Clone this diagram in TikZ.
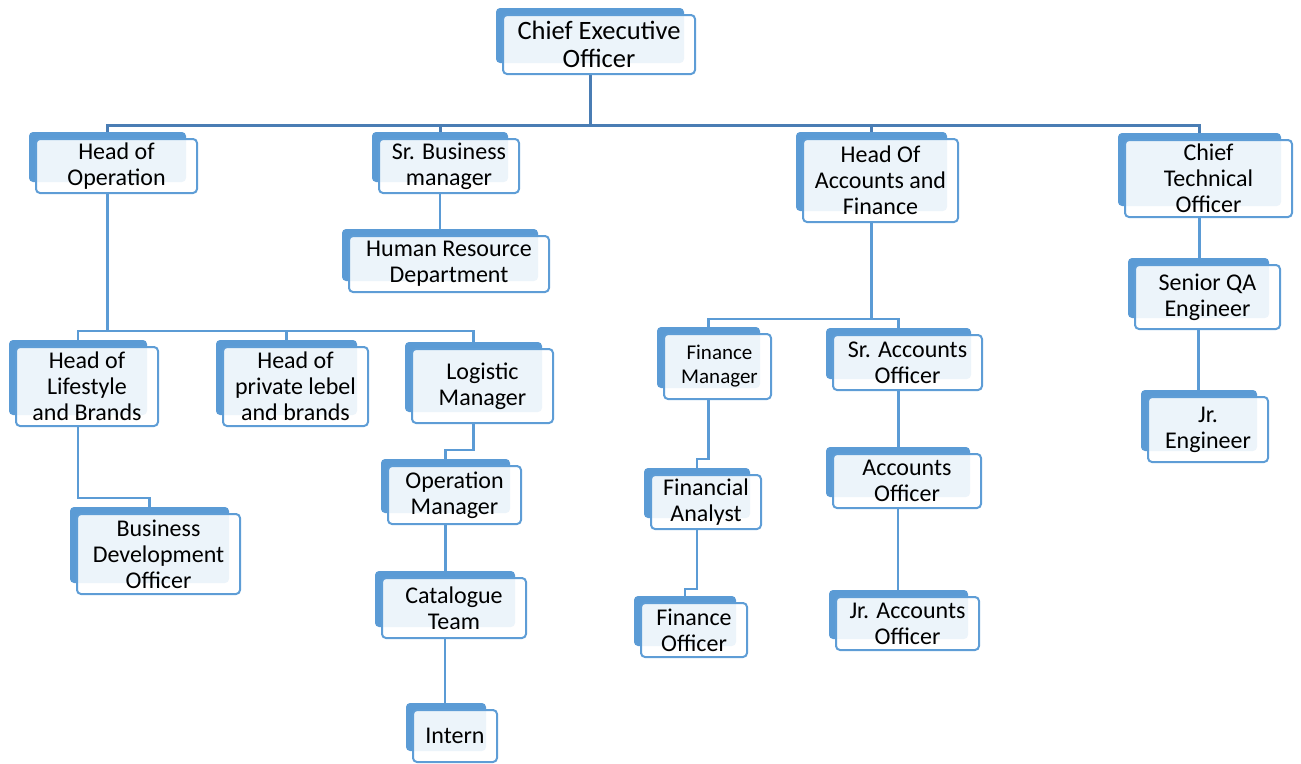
\documentclass[tikz,border=0pt]{standalone}
\usepackage{fontspec}
\setmainfont{Carlito}
\usetikzlibrary{fit,calc}
\pgfdeclarelayer{bg}
\pgfsetlayers{bg,main}
\definecolor{backblue}{HTML}{5B9BD5}
\definecolor{frontline}{HTML}{5E9DD6}
\definecolor{connA}{HTML}{4A7DB4}
\definecolor{connB}{HTML}{5B9BD5}
\tikzset{
  boxtext/.style={align=center, inner sep=0pt, font=\fontsize{24}{26}\selectfont},
  connmain/.style={draw=connA, line width=3pt},
  connsub/.style={draw=connB, line width=2.5pt},
}
\newcommand\orgbox[7]{%
  \fill[backblue, rounded corners=4pt] ({#2-7},{#3-7}) rectangle ({#4-11},{#5-11});
  \draw[frontline, line width=2pt, fill=white, fill opacity=0.89, rounded corners=4pt] (#2,#3) rectangle (#4,#5);
  \node[fit={({#2-7},{#3-7}) ({#4-11},#5)}, inner sep=0pt] (#1) {};
  \node[boxtext, #6] (#1t) at ({(#2+#4)/2},{(#3+#5)/2}) {#7};
}
\begin{document}
\begin{tikzpicture}[x=1pt,y=-1pt]
\useasboundingbox (0,0) rectangle (1301,763);
% boxes
\orgbox{ceo}{503}{15}{695}{74}{font=\fontsize{26.5}{28.5}\selectfont}{Chief Executive\\Officer}
\orgbox{hop}{36}{139}{197}{193}{}{Head of\\Operation}
\orgbox{sbm}{379}{139}{519}{193}{}{Sr. Business\\manager}
\orgbox{hac}{803}{139}{958}{222}{}{Head Of\\Accounts and\\Finance}
\orgbox{cto}{1125}{140}{1292}{217}{}{Chief\\Technical\\Officer}
\orgbox{hr}{349}{236}{549}{292}{}{Human Resource\\Department}
\orgbox{hls}{16}{347}{158}{426}{}{Head of\\Lifestyle\\and Brands}
\orgbox{hpl}{223}{347}{368}{426}{}{Head of\\private lebel\\and brands}
\orgbox{log}{412}{349}{553}{423}{}{Logistic\\Manager}
\orgbox{bdo}{77}{514}{240}{594}{}{Business\\Development\\Officer}
\orgbox{opm}{388}{466}{521}{524}{}{Operation\\Manager}
\orgbox{cat}{382}{578}{526}{638}{}{Catalogue\\Team}
\orgbox{int}{413}{710}{497}{762}{}{Intern}
\orgbox{fm}{664}{334}{771}{399}{font=\fontsize{21}{24}\selectfont, xshift=2pt}{Finance\\Manager}
\orgbox{sao}{833}{335}{982}{390}{}{Sr. Accounts\\Officer}
\orgbox{fa}{651}{475}{761}{529}{}{Financial\\Analyst}
\orgbox{fo}{641}{603}{747}{657}{}{Finance\\Officer}
\orgbox{ao}{833}{454}{981}{508}{}{Accounts\\Officer}
\orgbox{jra}{836}{597}{979}{650}{}{Jr. Accounts\\Officer}
\orgbox{sqa}{1135}{265}{1280}{329}{}{Senior QA\\Engineer}
\orgbox{jre}{1148}{397}{1268}{462}{}{Jr.\\Engineer}
% connectors
\begin{pgfonlayer}{bg}
\draw[connmain] (ceo.south) -- ++(0,51) coordinate (bus0);
\draw[connmain] (hop.north) |- (bus0);
\draw[connmain] (sbm.north) |- (bus0);
\draw[connmain] (hac.north) |- (bus0);
\draw[connmain] (cto.north) |- (bus0);
\draw[connsub] (sbm.south) -- (sbm.south |- hr.north);
\draw[connsub] (hop.south) -- ++(0,138) coordinate (bus1);
\draw[connsub] (hls.north) |- (bus1);
\draw[connsub] (hpl.north) |- (bus1);
\draw[connsub] (log.north) |- (bus1);
\draw[connsub] (hls.south) -- ++(0,72) -| (bdo.north);
\draw[connsub] (log.south) -- ++(0,27) -| (opm.north);
\draw[connsub] (opm.south) -- (opm.south |- cat.north);
\draw[connsub] (cat.south) -- (cat.south |- int.north);
\draw[connsub] (hac.south) -- ++(0,97) coordinate (bus2);
\draw[connsub] (fm.north) |- (bus2);
\draw[connsub] (sao.north) |- (bus2);
\draw[connsub] (fm.south) -- ++(0,60) -| (fa.north);
\draw[connsub] (fa.south) -- ++(0,60) -| (fo.north);
\draw[connsub] (sao.south) -- (sao.south |- ao.north);
\draw[connsub] (ao.south) -- (ao.south |- jra.north);
\draw[connsub] (cto.south) -- (cto.south |- sqa.north);
\draw[connsub] (sqa.south) -- (sqa.south |- jre.north);
\end{pgfonlayer}
\end{tikzpicture}
\end{document}
